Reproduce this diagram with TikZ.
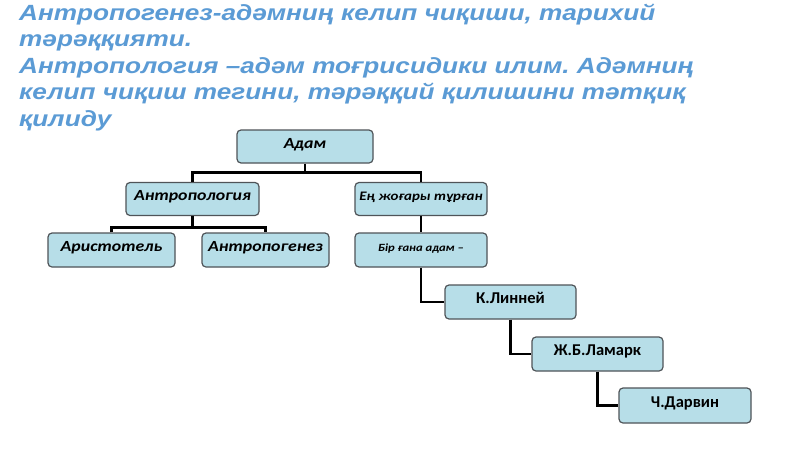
\documentclass[tikz,border=0pt]{standalone}
\usepackage{fontspec}
\setmainfont{Liberation Sans}
\newfontfamily\titlefont[FakeStretch=1.19]{Liberation Sans}
\newfontfamily\boxfont[FakeStretch=1.15]{Carlito}
\newfontfamily\boxupfont{Carlito}
\definecolor{titleblue}{HTML}{5B9BD5}
\definecolor{boxfill}{HTML}{B7DEE8}
\definecolor{boxline}{HTML}{4F5458}
\begin{document}
\frenchspacing
\begin{tikzpicture}[x=1pt,y=-1pt,
  box/.style={draw=boxline, line width=1.2pt, fill=boxfill, rounded corners=4pt,
    inner sep=0pt, align=center, text height=9pt, text depth=6pt,
    font=\boxfont\bfseries\itshape\fontsize{15.5}{17}\selectfont},
  smallbox/.style={box, font=\boxfont\bfseries\itshape\fontsize{13}{15}\selectfont},
  tinybox/.style={box, font=\boxfont\bfseries\itshape\fontsize{11}{13}\selectfont},
  upbox/.style={box, font=\boxupfont\bfseries\fontsize{16.5}{18}\selectfont},
  link/.style={draw=black, line width=2.6pt}]
\useasboundingbox (0,0) rectangle (800,450);
\fill[white] (0,0) rectangle (800,450);

\node[anchor=north west, inner sep=0pt, align=left, text=titleblue,
  font=\titlefont\bfseries\itshape\fontsize{22}{26.6}\selectfont] (title) at (19,3.5)
  {Антропогенез-адәмниң келип чиқиши, тарихий\\
   тәрәққияти.\\
   Антропология –адәм тоғрисидики илим. Адәмниң\\
   келип чиқиш тегини, тәрәққий қилишини тәтқиқ\\
   қилиду};

\node[box, minimum width=136pt, minimum height=33pt] (adam) at (305,146.5) {Адам};
\node[box, minimum width=133pt, minimum height=33pt] (antr) at (192.5,199) {Антропология};
\node[smallbox, minimum width=132pt, minimum height=33pt] (eng) at (421,199) {Ең жоғары тұрған};
\node[box, minimum width=127pt, minimum height=34pt] (arist) at (111.5,250) {Аристотель};
\node[box, minimum width=127pt, minimum height=34pt] (antrg) at (265.5,250) {Антропогенез};
\node[tinybox, minimum width=132pt, minimum height=34pt] (bir) at (421,250) {Бір ғана адам –};
\node[upbox, minimum width=131pt, minimum height=34pt] (linn) at (510.5,302) {К.Линней};
\node[upbox, minimum width=131pt, minimum height=34pt] (lam) at (597.5,354) {Ж.Б.Ламарк};
\node[upbox, minimum width=132pt, minimum height=35pt] (darw) at (685,405.5) {Ч.Дарвин};

\draw[link] (adam.south) -- ++(0,9) coordinate (j1);
\draw[link] (antr.north) |- (j1) -| (eng.north);
\draw[link] (antr.south) -- ++(0,11.5) coordinate (j2);
\draw[link] (arist.north) |- (j2) -| (antrg.north);
\draw[link] (eng.south) -- (bir.north);
\draw[link] (bir.south) |- (linn.west);
\draw[link] (linn.south) |- (lam.west);
\draw[link] (lam.south) |- (darw.west);
\end{tikzpicture}
\end{document}
